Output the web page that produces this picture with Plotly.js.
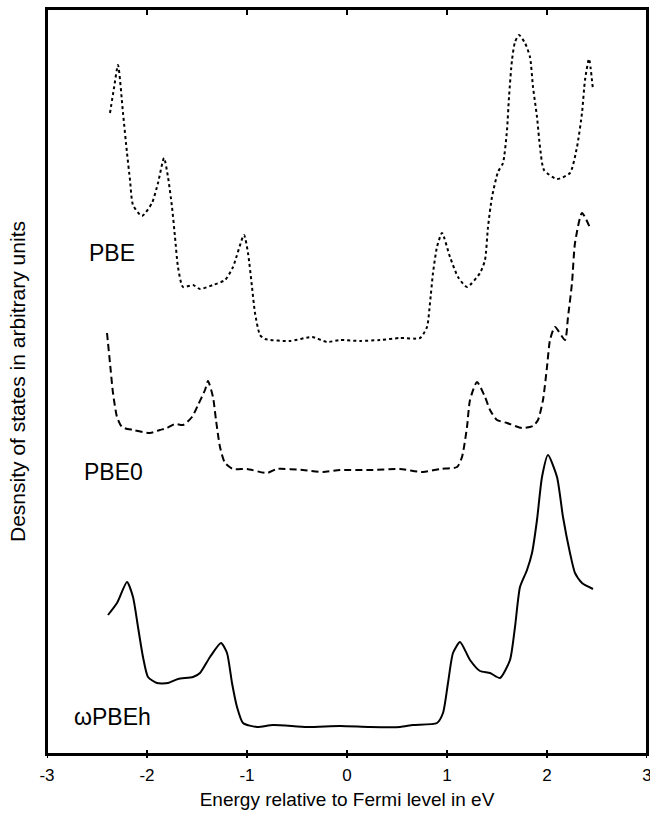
<!DOCTYPE html>
<html>
<head>
<meta charset="utf-8">
<script src="https://cdn.plot.ly/plotly-3.0.1.min.js"></script>
<style>html,body{margin:0;padding:0;background:#fff;}#chart{width:650px;height:814px;}</style>
</head>
<body>
<div id="chart"></div>
<script>
// Energy (eV) and DOS (arbitrary units, curves vertically offset as in the figure)
const pbeE = [-2.37,-2.33,-2.29,-2.24,-2.20,-2.17,-2.14,-2.05,-1.95,-1.89,-1.83,-1.79,-1.75,-1.72,-1.69,-1.64,-1.54,-1.47,-1.34,-1.22,-1.14,-1.03,-0.99,-0.95,-0.92,-0.87,-0.82,-0.57,-0.35,-0.20,-0.07,0.13,0.33,0.53,0.73,0.80,0.83,0.86,0.90,0.95,1.03,1.11,1.20,1.33,1.38,1.41,1.45,1.51,1.56,1.60,1.62,1.65,1.68,1.72,1.78,1.83,1.86,1.90,1.93,1.97,2.10,2.23,2.30,2.35,2.38,2.42,2.46];
const pbeDOS = [6.41,6.66,6.89,6.41,6.01,5.74,5.49,5.38,5.51,5.71,5.96,5.77,5.47,5.17,4.87,4.67,4.69,4.65,4.69,4.74,4.87,5.19,5.01,4.67,4.41,4.19,4.15,4.13,4.17,4.12,4.14,4.13,4.14,4.16,4.16,4.27,4.51,4.81,5.07,5.21,4.97,4.77,4.67,4.81,4.94,5.27,5.57,5.82,5.91,6.24,6.57,6.94,7.12,7.19,7.11,6.97,6.67,6.37,6.07,5.84,5.75,5.81,6.07,6.41,6.74,6.95,6.64];

const pbe0E = [-2.40,-2.37,-2.34,-2.30,-2.25,-2.14,-1.97,-1.87,-1.80,-1.72,-1.64,-1.55,-1.49,-1.42,-1.39,-1.34,-1.31,-1.27,-1.22,-1.14,-1.00,-0.80,-0.70,-0.44,-0.24,-0.07,0.23,0.53,0.76,0.93,1.10,1.15,1.20,1.23,1.30,1.38,1.43,1.50,1.60,1.75,1.86,1.91,1.96,2.00,2.03,2.08,2.18,2.21,2.25,2.28,2.35,2.44];
const pbe0DOS = [4.21,3.91,3.61,3.37,3.27,3.24,3.21,3.24,3.26,3.30,3.29,3.37,3.49,3.64,3.73,3.57,3.34,3.07,2.91,2.85,2.85,2.81,2.85,2.84,2.82,2.84,2.84,2.85,2.82,2.85,2.87,2.97,3.27,3.54,3.72,3.57,3.44,3.34,3.31,3.26,3.28,3.34,3.54,3.87,4.14,4.27,4.14,4.37,4.71,5.11,5.41,5.24];

const wpbehE = [-2.39,-2.30,-2.20,-2.14,-2.09,-2.04,-1.99,-1.90,-1.79,-1.69,-1.54,-1.47,-1.37,-1.26,-1.20,-1.15,-1.10,-1.04,-0.90,-0.74,-0.40,-0.07,0.23,0.53,0.66,0.90,0.96,1.01,1.06,1.13,1.23,1.33,1.43,1.53,1.63,1.68,1.73,1.80,1.85,1.90,1.95,2.01,2.10,2.16,2.23,2.28,2.35,2.46];
const wpbehDOS = [1.39,1.51,1.72,1.57,1.27,0.97,0.77,0.71,0.71,0.75,0.77,0.81,0.97,1.11,1.01,0.71,0.47,0.31,0.27,0.29,0.27,0.28,0.27,0.27,0.29,0.31,0.41,0.71,1.01,1.12,0.94,0.83,0.81,0.76,0.94,1.27,1.67,1.84,2.01,2.34,2.77,2.99,2.77,2.37,2.01,1.81,1.71,1.65];

const curveLabels = ["PBE", "PBE0", "ωPBEh"];
const labelE = [-2.35, -2.34, -2.35];
const labelDOS = [5.01, 2.82, 0.37];
const xTicks = [-3, -2, -1, 0, 1, 2, 3];

const FONT = "Liberation Sans, Arial, Helvetica, sans-serif";

const traces = [
  {x: pbeE, y: pbeDOS, mode: "lines", line: {color: "#000", width: 2, dash: "3px,3px", shape: "spline", smoothing: 0.6}, name: "PBE"},
  {x: pbe0E, y: pbe0DOS, mode: "lines", line: {color: "#000", width: 2, dash: "7px,4px", shape: "spline", smoothing: 0.6}, name: "PBE0"},
  {x: wpbehE, y: wpbehDOS, mode: "lines", line: {color: "#000", width: 2, shape: "spline", smoothing: 0.6}, name: "ωPBEh"}
];

const annotations = curveLabels.map((t, i) => ({
  x: labelE[i], y: labelDOS[i], xref: "x", yref: "y", text: t, showarrow: false,
  font: {family: FONT, size: 23, color: "#000"}, xanchor: "center", yanchor: "middle"
}));

// frame + tick marks (bottom ticks cross the axis, top ticks point inward)
const shapes = [{type: "rect", xref: "paper", yref: "paper", x0: 0, x1: 1, y0: 0, y1: 1,
  line: {color: "black", width: 2}, fillcolor: "rgba(0,0,0,0)", layer: "above"}];
xTicks.forEach(t => {
  shapes.push({type: "line", xref: "x", yref: "paper", ysizemode: "pixel", yanchor: 0,
    x0: t, x1: t, y0: -4, y1: 4, line: {color: "black", width: 2}, layer: "above"});
  shapes.push({type: "line", xref: "x", yref: "paper", ysizemode: "pixel", yanchor: 1,
    x0: t, x1: t, y0: 0, y1: -6, line: {color: "black", width: 2}, layer: "above"});
});

const layout = {
  width: 650, height: 814,
  margin: {l: 47, r: 3, t: 9, b: 60, pad: 0},
  paper_bgcolor: "#fff", plot_bgcolor: "#fff",
  showlegend: false,
  font: {family: FONT, color: "#000"},
  xaxis: {
    range: [-3, 3], tickmode: "array", tickvals: xTicks, ticktext: xTicks.map(String),
    ticks: "", showline: true, linecolor: "black", linewidth: 2, mirror: true,
    showgrid: false, zeroline: false,
    tickfont: {family: FONT, size: 17, color: "#000"},
    ticklabeloverflow: "allow",
    ticklabelstandoff: 5,
    title: {text: "Energy relative to Fermi level in eV", font: {family: FONT, size: 19, color: "#000"}, standoff: 8}
  },
  yaxis: {
    range: [0, 7.45], showticklabels: false, ticks: "",
    showline: true, linecolor: "black", linewidth: 2, mirror: true,
    showgrid: false, zeroline: false,
    title: {text: "Desnsity of states in arbitrary units", font: {family: FONT, size: 21, color: "#000"}, standoff: 14}
  },
  shapes: shapes,
  annotations: annotations
};

Plotly.newPlot("chart", traces, layout, {displayModeBar: false});
</script>
</body>
</html>
